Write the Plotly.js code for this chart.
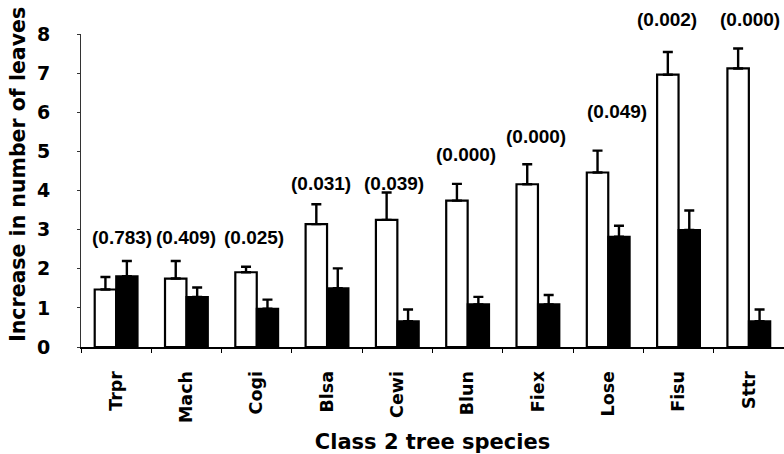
<!DOCTYPE html>
<html>
<head>
<meta charset="utf-8">
<script src="https://cdn.plot.ly/plotly-3.0.1.min.js"></script>
<style>html,body{margin:0;padding:0;background:#fff;}#chart{width:784px;height:454px;}</style>
</head>
<body>
<div id="chart"></div>
<script>
// Data
var species = ["Trpr","Mach","Cogi","Blsa","Cewi","Blun","Fiex","Lose","Fisu","Sttr"];
var openValues = [1.47,1.75,1.91,3.14,3.25,3.74,4.16,4.46,6.96,7.12];
var openErrors = [0.32,0.45,0.14,0.51,0.70,0.43,0.51,0.56,0.58,0.51];
var filledValues = [1.81,1.28,0.98,1.50,0.66,1.09,1.09,2.82,2.99,0.66];
var filledErrors = [0.39,0.24,0.23,0.51,0.30,0.19,0.24,0.28,0.50,0.30];
var pValues = ["(0.783)","(0.409)","(0.025)","(0.031)","(0.039)","(0.000)","(0.000)","(0.049)","(0.002)","(0.000)"];
var yTicks = [0,1,2,3,4,5,6,7,8];
var xTitle = "Class 2 tree species";
var yTitle = "Increase in number of leaves";

// Layout-only placement of the p-value labels (in y-axis units)
var labelY = [2.79,2.79,2.79,4.19,4.19,4.92,5.38,6.03,8.38,8.38];
var labelShift = [6,0,-3,-6,-3,-2,-2,9,-12,1];

var zeros = species.map(function(){return 0;});
var FONT = "Liberation Sans, Arial, sans-serif";
var HEAVY = "DejaVu Sans, Liberation Sans, sans-serif";
var Y_MAX = 8;

var traces = [
  {
    type: "bar", x: species, y: openValues, name: "open",
    marker: {color: "#ffffff", line: {color: "#000000", width: 2.2}},
    error_y: {type: "data", symmetric: false, array: openErrors, arrayminus: zeros,
              color: "#000000", thickness: 2.4, width: 5},
    hoverinfo: "x+y"
  },
  {
    type: "bar", x: species, y: filledValues, name: "filled",
    marker: {color: "#000000", line: {color: "#000000", width: 2}},
    error_y: {type: "data", symmetric: false, array: filledErrors, arrayminus: zeros,
              color: "#000000", thickness: 2.4, width: 5},
    hoverinfo: "x+y"
  }
];

var annotations = species.map(function(s, i){
  return {
    x: s, y: labelY[i] / Y_MAX, xref: "x", yref: "paper", text: pValues[i],
    showarrow: false, xshift: labelShift[i], yanchor: "middle",
    font: {family: FONT, size: 19, color: "#000", weight: "bold"}
  };
});
// y-axis title as a rotated annotation (to match its position in the reference)
annotations.push({
  x: 0, xref: "paper", xshift: -63, xanchor: "center",
  y: 0.55, yref: "paper", yanchor: "middle",
  text: yTitle, textangle: -90, showarrow: false,
  font: {family: HEAVY, size: 20.5, color: "#000", weight: "bold"}
});

var layout = {
  width: 784, height: 454,
  margin: {l: 81, r: 0, t: 34, b: 107},
  paper_bgcolor: "#fff", plot_bgcolor: "#fff",
  showlegend: false,
  barmode: "group", bargap: 0.39, bargroupgap: 0,
  xaxis: {
    type: "category", range: [-0.5, 9.5],
    showline: true, linecolor: "#000", linewidth: 2,
    ticks: "outside", tickson: "boundaries", ticklen: 4, tickwidth: 1, tickcolor: "#000",
    tickangle: -90, ticklabelstandoff: 15,
    tickfont: {family: HEAVY, size: 17.5, color: "#000", weight: "bold"},
    showgrid: false, zeroline: false,
    title: {text: xTitle, standoff: 12,
            font: {family: HEAVY, size: 21, color: "#000", weight: "bold"}}
  },
  yaxis: {
    range: [0, Y_MAX], tickvals: yTicks, ticktext: yTicks.map(String),
    showline: true, linecolor: "#333", linewidth: 1,
    ticks: "outside", ticklen: 3, tickwidth: 1, tickcolor: "#333",
    ticklabelstandoff: 23,
    tickfont: {family: HEAVY, size: 19, color: "#000", weight: "bold"},
    showgrid: false, zeroline: false
  },
  annotations: annotations
};

Plotly.newPlot("chart", traces, layout, {displayModeBar: false, staticPlot: true});
</script>
</body>
</html>
